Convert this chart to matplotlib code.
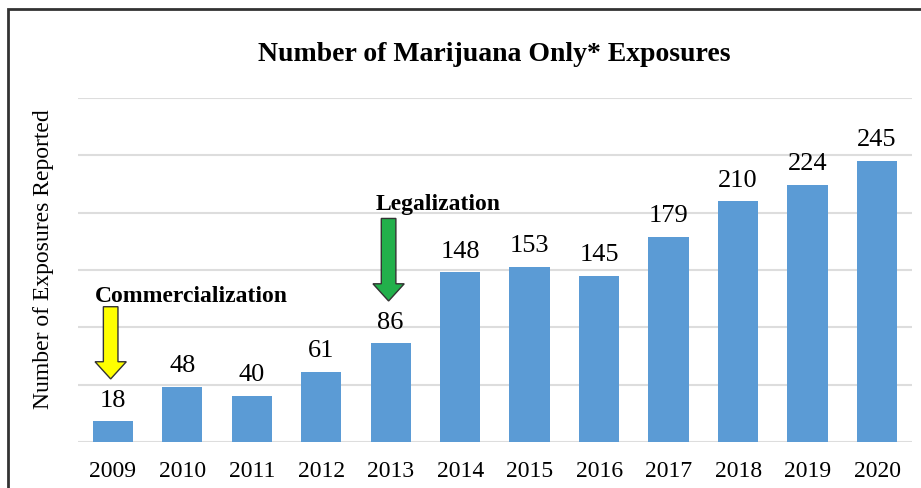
import matplotlib
matplotlib.use('Agg')
import matplotlib.pyplot as plt
from matplotlib.patches import FancyArrow, Rectangle

years = ['2009', '2010', '2011', '2012', '2013', '2014', '2015', '2016',
         '2017', '2018', '2019', '2020']
exposures = [18, 48, 40, 61, 86, 148, 153, 145, 179, 210, 224, 245]

title = 'Number of Marijuana Only* Exposures'
ylabel = 'Number of Exposures Reported'
events = [('Commercialization', '2009', '#FFFF00'),
          ('Legalization', '2013', '#22B04B')]

plt.rcParams['font.family'] = ['Liberation Serif', 'DejaVu Serif']


def main():
    fig = plt.figure(figsize=(9.21, 4.88), dpi=100)
    ax = fig.add_axes([0.0847, 0.0943, 0.9053, 0.7047])

    x = list(range(len(years)))
    ax.bar(x, exposures, width=0.58, color='#5B9BD5', zorder=3)
    for i, v in zip(x, exposures):
        ax.annotate(str(v), (i, v), xytext=(0, 7), textcoords='offset points',
                    ha='center', va='bottom', fontsize=19)

    ax.set_xlim(-0.5, len(years) - 0.5)
    ax.set_ylim(0, 300)
    ax.set_yticks(range(0, 301, 50))
    ax.set_yticklabels([])
    ax.grid(axis='y', color='#DDDDDD', linewidth=1.5, zorder=0)
    ax.set_xticks(x)
    ax.set_xticklabels(years, fontsize=17)
    ax.tick_params(length=0, pad=14)
    for s in ax.spines.values():
        s.set_visible(False)

    # event arrows + labels
    text_pos = {'Commercialization': (1.13, 127), 'Legalization': (4.68, 207)}
    for name, yr, col in events:
        i = years.index(yr)
        tip = exposures[i] + 37
        top = tip + 63 if i == 0 else tip + 72
        arr = FancyArrow(i - 0.03, top, 0, tip - top, width=0.21,
                         head_width=0.45, head_length=15,
                         length_includes_head=True, facecolor=col,
                         edgecolor='#333333', linewidth=1, zorder=5)
        ax.add_patch(arr)
        tx, ty = text_pos[name]
        ax.text(tx, ty, name, ha='center', va='center', fontsize=17,
                fontweight='bold', zorder=6)

    fig.text(0.537, 0.889, title, ha='center', va='center', fontsize=20,
             fontweight='bold')
    fig.text(0.047, 0.469, ylabel, ha='center', va='center', rotation=90,
             fontsize=17)

    # outer frame (cut off at right and bottom)
    fig.patches.append(Rectangle((8 / 921, -0.2), 1.2, 1.2 - 9 / 488,
                                 transform=fig.transFigure, fill=False,
                                 edgecolor='#333333', linewidth=2))

    fig.savefig('out.png', dpi=100)


if __name__ == '__main__':
    main()
